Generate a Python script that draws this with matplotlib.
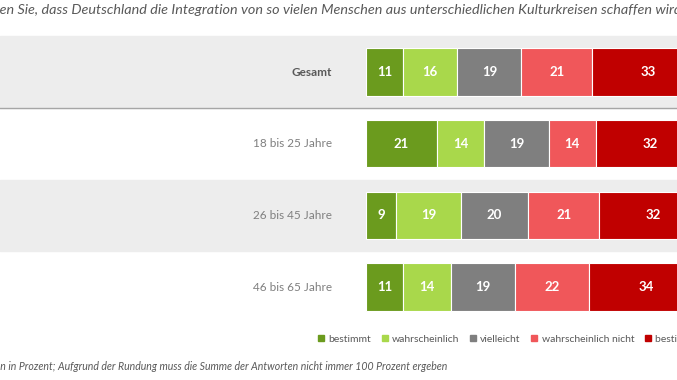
import matplotlib.pyplot as plt
from matplotlib.patches import Patch
import numpy as np

plt.rcParams['font.family'] = ['Lato', 'DejaVu Sans']

groups = ["Gesamt", "18 bis 25 Jahre", "26 bis 45 Jahre", "46 bis 65 Jahre"]
answers = ["bestimmt", "wahrscheinlich", "vielleicht", "wahrscheinlich nicht", "bestimmt nicht"]
bestimmt = [11, 21, 9, 11]
wahrscheinlich = [16, 14, 19, 14]
vielleicht = [19, 19, 20, 19]
wahrsch_nicht = [21, 14, 21, 22]
bestimmt_nicht = [33, 32, 32, 34]
colors = ["#6B9B1E", "#A9D84B", "#7F7F7F", "#F0575A", "#C00000"]

title = ("Glauben Sie, dass Deutschland die Integration von so vielen Menschen "
         "aus unterschiedlichen Kulturkreisen schaffen wird?")
footnote = ("Angaben in Prozent; Aufgrund der Rundung muss die Summe der Antworten "
            "nicht immer 100 Prozent ergeben")

W, H = 677, 380
fig = plt.figure(figsize=(W / 100, H / 100), dpi=100)
ax = fig.add_axes([0, 0, 1, 1])

# the picture is a crop: 0% sits at px 366, 100% at px 704
x0_px, x100_px = 366, 704
u = 100 / (x100_px - x0_px)
ax.set_xlim(-x0_px * u, (W - x0_px) * u)
row0_px, row_step = 72, 71.67
ax.set_ylim((H - row0_px) / row_step, -row0_px / row_step)
ax.axis('off')

# grey bands behind Gesamt and 26-45
for i in (0, 2):
    ax.axhspan(i - 0.5, i + 0.5, color="#EDEDED", zorder=0)
ax.axhline(0.5, color="#A6A6A6", lw=1, zorder=1)

series = [bestimmt, wahrscheinlich, vielleicht, wahrsch_nicht, bestimmt_nicht]
y = np.arange(len(groups))
left = np.zeros(len(groups))
for vals, c in zip(series, colors):
    vals = np.array(vals)
    ax.barh(y, vals, left=left, height=0.66, color=c, edgecolor="white",
            linewidth=0.8, zorder=2)
    for yi, l, v in zip(y, left, vals):
        ax.text(l + v / 2, yi, str(v), ha='center', va='center', color='white',
                fontsize=9.5, fontweight='bold', zorder=3)
    left += vals

for yi, g in zip(y, groups):
    ax.text(-34 * u, yi, g, ha='right', va='center', fontsize=8.5,
            color="#595959" if yi == 0 else "#7F7F7F",
            fontweight='bold' if yi == 0 else 'normal')

# title, cut off on both sides like the reference
title_fs = 10.4
r = fig.canvas.get_renderer()
tmp = fig.text(0, 0, "Glaub", fontsize=title_fs, style='italic')
pre_w = tmp.get_window_extent(r).width
tmp.remove()
fig.text(-pre_w / W, 1 - 10 / H, title, ha='left', va='center', fontsize=title_fs,
         style='italic', color="#595959")

fig.text(448 / W, 1 - 367 / H, footnote, ha='right', va='center', fontsize=7.6,
         style='italic', color="#595959")

handles = [Patch(color=c) for c in colors]
leg = fig.legend(handles, answers, loc='center left', bbox_to_anchor=(318 / W, 1 - 339 / H),
                 ncol=5, frameon=False, fontsize=7.5, handlelength=0.6, handleheight=0.6,
                 handletextpad=0.4, columnspacing=1.0, borderaxespad=0, borderpad=0)
for t in leg.get_texts():
    t.set_color("#595959")

fig.savefig("out.png", dpi=100)
